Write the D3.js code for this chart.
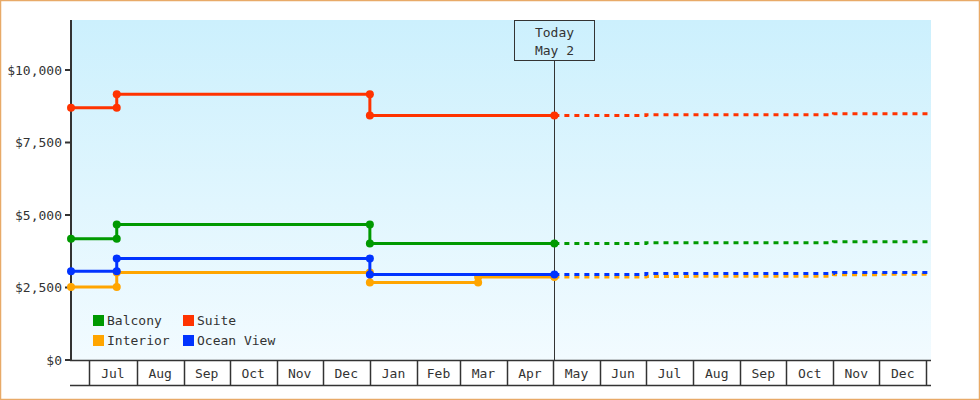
<!DOCTYPE html>
<html>
<head>
<meta charset="utf-8">
<script src="https://cdn.jsdelivr.net/npm/d3@7"></script>
<style>
  html, body { margin: 0; padding: 0; background: #fff; }
  svg { display: block; }
  text { font-family: "DejaVu Sans Mono", "Liberation Mono", monospace; font-size: 13px; fill: #333; }
</style>
</head>
<body>
<script>
// ---------- data ----------
const seriesNames = ["Balcony", "Suite", "Interior", "Ocean View"];
const seriesColors = ["#009900", "#ff3300", "#ffa500", "#0033ff"];

// historical price changes (date, value)
const balconyDates = ["2017-06-19", "2017-07-19", "2018-01-01", "2018-05-02"];
const balconyValues = [4180, 4670, 4015, 4015];
const suiteDates = ["2017-06-19", "2017-07-19", "2018-01-01", "2018-05-02"];
const suiteValues = [8700, 9160, 8430, 8430];
const interiorDates = ["2017-06-19", "2017-07-19", "2018-01-01", "2018-03-13", "2018-05-02"];
const interiorValues = [2520, 3020, 2670, 2860, 2860];
const oceanDates = ["2017-06-19", "2017-07-19", "2018-01-01", "2018-05-02"];
const oceanValues = [3060, 3500, 2945, 2945];

// forecast (dotted)
const balconyForecastDates = ["2018-05-02", "2018-07-01", "2018-11-01", "2019-01-04"];
const balconyForecastValues = [4015, 4045, 4080, 4080];
const suiteForecastDates = ["2018-05-02", "2018-07-01", "2018-11-01", "2019-01-04"];
const suiteForecastValues = [8430, 8460, 8495, 8495];
const interiorForecastDates = ["2018-05-02", "2018-07-01", "2018-08-01", "2018-11-01", "2018-12-01", "2019-01-04"];
const interiorForecastValues = [2860, 2875, 2890, 2940, 2955, 2955];
const oceanForecastDates = ["2018-05-02", "2018-07-01", "2018-11-01", "2019-01-04"];
const oceanForecastValues = [2945, 2980, 3015, 3015];

const yTicks = [0, 2500, 5000, 7500, 10000];
const yMax = 11724;
const domainStart = "2017-06-19";
const domainEnd = "2019-01-04";
const todayDate = "2018-05-02";
const todayLabel = ["Today", "May 2"];

// ---------- layout ----------
const W = 980, H = 400;
const pLeft = 71, pRight = 931, pTop = 20, pBottom = 360, bandBottom = 385;

const parse = d3.timeParse("%Y-%m-%d");
const x = d3.scaleTime().domain([parse(domainStart), parse(domainEnd)]).range([pLeft, pRight]);
const y = d3.scaleLinear().domain([0, yMax]).range([pBottom, pTop]);

const svg = d3.select("body").append("svg").attr("width", W).attr("height", H);

const defs = svg.append("defs");
const grad = defs.append("linearGradient").attr("id", "bg").attr("x1", 0).attr("y1", 0).attr("x2", 0).attr("y2", 1);
grad.append("stop").attr("offset", "0%").attr("stop-color", "#ccf0fd");
grad.append("stop").attr("offset", "100%").attr("stop-color", "#f2fbff");

// outer border
svg.append("rect").attr("x", 0.5).attr("y", 0.5).attr("width", W - 1).attr("height", H - 1)
  .attr("fill", "#fff").attr("stroke", "#e8aa68").attr("stroke-width", 1.5);

// plot background
svg.append("rect").attr("x", pLeft).attr("y", pTop).attr("width", pRight - pLeft).attr("height", pBottom - pTop)
  .attr("fill", "url(#bg)");

// ---------- x axis band ----------
const xg = svg.append("g");
xg.append("line").attr("x1", pLeft - 1).attr("x2", pRight).attr("y1", pBottom + 0.5).attr("y2", pBottom + 0.5)
  .attr("stroke", "#333").attr("stroke-width", 1.5);
xg.append("line").attr("x1", pLeft - 1).attr("x2", pRight).attr("y1", bandBottom + 0.5).attr("y2", bandBottom + 0.5)
  .attr("stroke", "#333").attr("stroke-width", 1.5);
const months = x.ticks(d3.timeMonth.every(1));
months.forEach(m => {
  const px = Math.round(x(m)) + 0.5;
  if (px <= pLeft + 1 || px >= pRight) return;
  xg.append("line").attr("x1", px).attr("x2", px).attr("y1", pBottom).attr("y2", bandBottom)
    .attr("stroke", "#333").attr("stroke-width", 1.5);
});
months.forEach(m => {
  const next = d3.timeMonth.offset(m, 1);
  if (m < x.domain()[0] || next > x.domain()[1]) return;
  xg.append("text").attr("x", (x(m) + x(next)) / 2).attr("y", 378)
    .attr("text-anchor", "middle").text(d3.timeFormat("%b")(m));
});

// ---------- y axis ----------
const yg = svg.append("g");
yg.append("line").attr("x1", pLeft).attr("x2", pLeft).attr("y1", pTop).attr("y2", pBottom + 1)
  .attr("stroke", "#333").attr("stroke-width", 2);
yTicks.forEach(t => {
  const py = y(t);
  yg.append("line").attr("x1", pLeft - 6).attr("x2", pLeft).attr("y1", py).attr("y2", py)
    .attr("stroke", "#333").attr("stroke-width", 2);
  yg.append("text").attr("x", 62).attr("y", py).attr("dy", "0.35em").attr("text-anchor", "end")
    .text("$" + d3.format(",")(t));
});

// ---------- today marker ----------
const tx = Math.round(x(parse(todayDate))) + 0.5;
svg.append("line").attr("x1", tx).attr("x2", tx).attr("y1", 61).attr("y2", pBottom)
  .attr("stroke", "#333").attr("stroke-width", 1);
svg.append("rect").attr("x", tx - 40).attr("y", pTop + 0.5).attr("width", 80).attr("height", 40)
  .attr("fill", "none").attr("stroke", "#333").attr("stroke-width", 1);
svg.append("text").attr("x", tx).attr("y", 37).attr("text-anchor", "middle").text(todayLabel[0]);
svg.append("text").attr("x", tx).attr("y", 55).attr("text-anchor", "middle").text(todayLabel[1]);

// ---------- series ----------
const hist = [
  [balconyDates, balconyValues],
  [suiteDates, suiteValues],
  [interiorDates, interiorValues],
  [oceanDates, oceanValues]
];
const fc = [
  [balconyForecastDates, balconyForecastValues],
  [suiteForecastDates, suiteForecastValues],
  [interiorForecastDates, interiorForecastValues],
  [oceanForecastDates, oceanForecastValues]
];

function stepPoints(dates, values) {
  const pts = [];
  dates.forEach((d, i) => {
    const dt = parse(d);
    if (i > 0 && values[i] !== values[i - 1]) pts.push([dt, values[i - 1]]);
    pts.push([dt, values[i]]);
  });
  return pts;
}

const line = d3.line().x(d => x(d[0])).y(d => y(d[1]));

seriesNames.forEach((name, i) => {
  const color = seriesColors[i];
  const g = svg.append("g");
  const fpts = stepPoints(fc[i][0], fc[i][1]);
  g.append("path").attr("d", line(fpts)).attr("fill", "none").attr("stroke", color)
    .attr("stroke-width", 3).attr("stroke-dasharray", "5,5");
  const hpts = stepPoints(hist[i][0], hist[i][1]);
  g.append("path").attr("d", line(hpts)).attr("fill", "none").attr("stroke", color).attr("stroke-width", 3);
  g.selectAll("circle").data(hpts).join("circle")
    .attr("cx", d => x(d[0])).attr("cy", d => y(d[1])).attr("r", 4).attr("fill", color);
});

// ---------- legend ----------
const legendPos = [[93, 315], [183, 315], [93, 335], [183, 335]];
seriesNames.forEach((name, i) => {
  const [lx, ly] = legendPos[i];
  svg.append("rect").attr("x", lx).attr("y", ly).attr("width", 11).attr("height", 11).attr("fill", seriesColors[i]);
  svg.append("text").attr("x", lx + 14).attr("y", ly + 10).text(name);
});
</script>
</body>
</html>
